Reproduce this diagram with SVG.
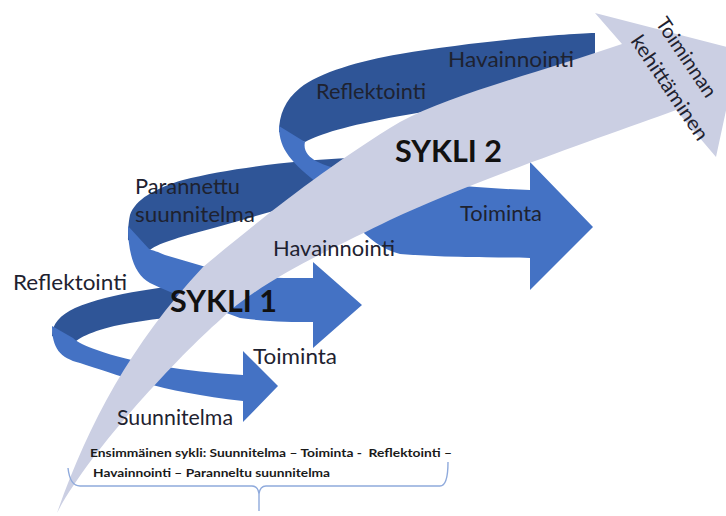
<svg xmlns="http://www.w3.org/2000/svg" width="726" height="516" viewBox="0 0 726 516">
<style>
.back{fill:#2F5597}
.front{fill:#4472C4}
.main{fill:#CBCFE3}
.lbl{font-family:Lato,"Liberation Sans",sans-serif;font-size:21px;fill:#1e2230}
.rot{font-family:Lato,"Liberation Sans",sans-serif;font-size:20px;fill:#1e2230}
.big{font-family:Lato,"Liberation Sans",sans-serif;font-size:31px;font-weight:bold;fill:#111}
.cap{font-family:Lato,"Liberation Sans",sans-serif;font-size:11.5px;font-weight:bold;fill:#1a1a1a}
.brace{fill:none;stroke:#8FAADC;stroke-width:1.4}
</style>
<rect width="726" height="516" fill="#fff"/>
<g id="cycle-upper-back">
<path class="back" d="M595,33 C560,34 470,42 400,54 C360,61 320,72 300,88 C285,100 279,115 279,132 L305,142 C320,134 345,126 400,116 C450,108 520,92 595,80 Z"/>
</g>
<g id="cycle-middle-back">
<path class="back" d="M350,158 C300,160 230,168 183,180 C155,188 135,200 130,215 C128,225 128,232 128,240 L150,250 C160,242 185,236 210,229 C250,218 300,203 350,190 Z"/>
</g>
<g id="cycle-lower-back">
<path class="back" d="M215,283 C170,285 110,293 75,308 C60,315 52,324 52,336 L73,344 C80,336 100,328 130,323 C160,318 190,315 215,313 Z"/>
</g>
<g id="cycle-lower-front">
<path class="front" d="M52,326 C52,348 60,358 80,363 C115,374 160,392 243,401 L243,422 L278,386 L243,351 L243,375 C185,372 130,362 97,350 C85,346 77,342 73,338 Z"/>
</g>
<g id="cycle-middle-front">
<path class="front" d="M128,226 C128,255 135,275 150,283 C175,295 205,305 240,318 C270,322 290,322 313,322 L313,348 L362,305 L313,262 L313,278 C290,278 260,278 240,277 C215,270 190,262 165,255 C158,252 153,250 150,250 Z"/>
</g>
<g id="cycle-upper-front">
<path class="front" d="M279,126 C279,150 292,163 320,185 C345,210 365,245 400,254 C450,258 500,257 530,258 L530,290 L593,227 L530,162 L530,190 C470,188 420,182 380,176 C350,172 330,168 318,162 C308,157 303,150 305,142 Z"/>
</g>
<g id="main-arrow">
<path class="main" d="M57,513 C88,425 130,345 203,267 C245,232 320,170 400,122 C450,95 540,72 622,44 L595,13 L739,50 L716,157 L676,110 C600,138 470,182 390,220 C340,245 260,280 220,320 C180,355 90,450 57,513 Z"/>
</g>
<g id="labels">
<text class="lbl" x="448" y="67" textLength="126" lengthAdjust="spacingAndGlyphs">Havainnointi</text>
<text class="lbl" x="316" y="99" textLength="110" lengthAdjust="spacingAndGlyphs">Reflektointi</text>
<text class="big" x="395" y="162" textLength="107" lengthAdjust="spacingAndGlyphs">SYKLI 2</text>
<text class="lbl" x="460" y="221" textLength="82" lengthAdjust="spacingAndGlyphs">Toiminta</text>
<text class="lbl" x="135" y="194" textLength="105" lengthAdjust="spacingAndGlyphs">Parannettu</text>
<text class="lbl" x="135" y="222" textLength="120" lengthAdjust="spacingAndGlyphs">suunnitelma</text>
<text class="lbl" x="273" y="256" textLength="122" lengthAdjust="spacingAndGlyphs">Havainnointi</text>
<text class="lbl" x="13" y="290" textLength="114" lengthAdjust="spacingAndGlyphs">Reflektointi</text>
<text class="big" x="170" y="312" textLength="107" lengthAdjust="spacingAndGlyphs">SYKLI 1</text>
<text class="lbl" x="253" y="364" textLength="84" lengthAdjust="spacingAndGlyphs">Toiminta</text>
<text class="lbl" x="117" y="425" textLength="116" lengthAdjust="spacingAndGlyphs">Suunnitelma</text>
<text class="rot" x="655" y="23" transform="rotate(56 655 23)" textLength="92" lengthAdjust="spacingAndGlyphs">Toiminnan</text>
<text class="rot" x="630" y="41" transform="rotate(56 630 41)" textLength="122" lengthAdjust="spacingAndGlyphs">kehittäminen</text>
</g>
<g id="caption">
<path class="brace" d="M68,468 Q70,486 80,486 L252,486 Q258,486 259,494 L259,511 M259,494 Q260,486 266,486 L440,486 Q448,486 448,462"/>
<text class="cap" x="90" y="457" xml:space="preserve" textLength="362" lengthAdjust="spacingAndGlyphs">Ensimmäinen sykli: Suunnitelma – Toiminta -  Reflektointi –</text>
<text class="cap" x="93" y="477" textLength="237" lengthAdjust="spacingAndGlyphs">Havainnointi – Paranneltu suunnitelma</text>
</g>
</svg>
